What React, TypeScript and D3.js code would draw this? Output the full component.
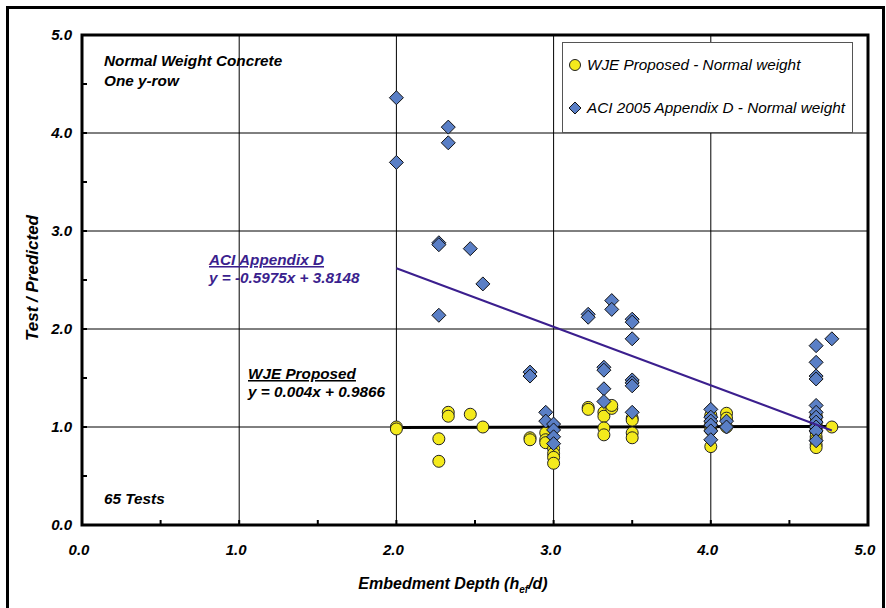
import React from "react";
import * as d3 from "d3";

const wjeX = [2.0, 2.0, 2.27, 2.27, 2.33, 2.33, 2.47, 2.55, 2.85, 2.85, 2.95, 2.95, 2.95, 3.0, 3.0, 3.0, 3.0, 3.22, 3.22, 3.32, 3.32, 3.32, 3.32, 3.37, 3.37, 3.5, 3.5, 3.5, 3.5, 3.5, 4.0, 4.0, 4.0, 4.0, 4.0, 4.1, 4.1, 4.1, 4.67, 4.67, 4.67, 4.67, 4.67, 4.67, 4.67, 4.67, 4.67, 4.67, 4.67, 4.77];
const wjeY = [1.0, 0.98, 0.88, 0.65, 1.15, 1.11, 1.13, 1.0, 0.89, 0.87, 0.94, 0.87, 0.84, 0.78, 0.73, 0.69, 0.63, 1.2, 1.18, 1.15, 1.11, 0.99, 0.92, 1.19, 1.22, 1.09, 1.07, 1.46, 0.94, 0.89, 1.0, 1.04, 0.97, 0.8, 1.12, 1.14, 1.09, 1.0, 1.1, 1.05, 1.02, 1.0, 0.98, 0.95, 0.9, 0.87, 0.82, 0.79, 1.12, 1.0];

const aciX = [2.0, 2.0, 2.27, 2.27, 2.27, 2.33, 2.33, 2.47, 2.55, 2.85, 2.85, 2.95, 2.95, 3.0, 3.0, 3.0, 3.0, 3.22, 3.22, 3.37, 3.37, 3.32, 3.32, 3.32, 3.32, 3.5, 3.5, 3.5, 3.5, 3.5, 3.5, 3.5, 4.0, 4.0, 4.0, 4.0, 4.0, 4.0, 4.1, 4.1, 4.67, 4.67, 4.67, 4.67, 4.67, 4.67, 4.67, 4.67, 4.67, 4.67, 4.67, 4.77];
const aciY = [4.36, 3.7, 2.88, 2.86, 2.14, 4.06, 3.9, 2.82, 2.46, 1.56, 1.52, 1.15, 1.06, 1.03, 0.97, 0.9, 0.83, 2.15, 2.12, 2.29, 2.2, 1.61, 1.58, 1.39, 1.26, 2.1, 2.07, 1.9, 1.48, 1.45, 1.42, 1.15, 1.18, 1.1, 1.06, 1.02, 0.96, 0.87, 1.06, 1.0, 1.83, 1.66, 1.52, 1.49, 1.22, 1.15, 1.1, 1.05, 1.0, 0.96, 0.86, 1.9];

const xTickLabels = ["0.0", "1.0", "2.0", "3.0", "4.0", "5.0"];
const yTickLabels = ["0.0", "1.0", "2.0", "3.0", "4.0", "5.0"];

const aciFit = { slope: -0.5975, intercept: 3.8148, x0: 2.0, x1: 4.77 };
const wjeFit = { slope: 0.004, intercept: 0.9866, x0: 2.0, x1: 4.77 };

const FONT = "'Liberation Sans', Arial, sans-serif";

export default function App() {
  const left = 82, right = 868, top = 35, bottom = 525;
  const x = d3.scaleLinear().domain([0, 5]).range([left, right]);
  const y = d3.scaleLinear().domain([0, 5]).range([bottom, top]);
  const major = d3.range(0, 5.01, 1);
  const minor = d3.range(0, 5.01, 0.5);
  const diamond = (cx: number, cy: number, r: number) =>
    `M${cx},${cy - r}L${cx + r},${cy}L${cx},${cy + r}L${cx - r},${cy}Z`;
  const fitLine = (f: typeof aciFit) =>
    d3.line<number>().x((v) => x(v)).y((v) => y(f.slope * v + f.intercept))([f.x0, f.x1]) || "";

  const yellow = "#f4ea1c";
  const blue = "#5a7fc6";

  return (
    <svg width={886} height={608} style={{ position: "absolute", left: 0, top: 0 }}>
      <rect x={0} y={0} width={886} height={608} fill="#fff" />
      <rect x={7.5} y={7.5} width={876} height={610} fill="none" stroke="#000" strokeWidth={3} />
      {/* grid */}
      {major.slice(1, -1).map((v) => (
        <line key={"gx" + v} x1={x(v)} x2={x(v)} y1={top} y2={bottom} stroke="#000" strokeWidth={1} />
      ))}
      {major.slice(1, -1).map((v) => (
        <line key={"gy" + v} x1={left} x2={right} y1={y(v)} y2={y(v)} stroke="#000" strokeWidth={1} />
      ))}
      {/* ticks */}
      {minor.map((v) => (
        <line key={"tx" + v} x1={x(v)} x2={x(v)} y1={bottom} y2={bottom - 5} stroke="#000" strokeWidth={2} />
      ))}
      {minor.map((v) => (
        <line key={"ty" + v} x1={left} x2={left + 5} y1={y(v)} y2={y(v)} stroke="#000" strokeWidth={2} />
      ))}
      <rect x={left} y={top} width={right - left} height={bottom - top} fill="none" stroke="#000" strokeWidth={3} />
      {/* tick labels */}
      {xTickLabels.map((t, i) => (
        <text key={"xl" + t} x={x(i) - 3} y={555} textAnchor="middle" fontFamily={FONT} fontSize={15} fontWeight="bold" fontStyle="italic">{t}</text>
      ))}
      {yTickLabels.map((t, i) => (
        <text key={"yl" + t} x={72} y={y(i) + 5} textAnchor="end" fontFamily={FONT} fontSize={15} fontWeight="bold" fontStyle="italic">{t}</text>
      ))}
      {/* axis titles */}
      <text x={453} y={589} textAnchor="middle" fontFamily={FONT} fontSize={16} fontWeight="bold" fontStyle="italic">
        Embedment Depth (h<tspan fontSize={10} dy={4}>ef</tspan><tspan dy={-4}>/d)</tspan>
      </text>
      <text transform={`translate(38,${y(2.5) - 2}) rotate(-90)`} textAnchor="middle" fontFamily={FONT} fontSize={17} fontWeight="bold" fontStyle="italic">Test / Predicted</text>
      {/* fits */}
      <path d={fitLine(wjeFit)} stroke="#000" strokeWidth={3} fill="none" />
      {/* points */}
      {wjeX.map((v, i) => (
        <circle key={"w" + i} cx={x(v)} cy={y(wjeY[i])} r={6} fill={yellow} stroke="#222" strokeWidth={1} />
      ))}
      {aciX.map((v, i) => (
        <path key={"a" + i} d={diamond(x(v), y(aciY[i]), 7)} fill={blue} stroke="#111" strokeWidth={1} />
      ))}
      <path d={fitLine(aciFit)} stroke="#3b1f8e" strokeWidth={2} fill="none" />
      {/* annotations */}
      <g fontFamily={FONT} fontSize={15.3} fontWeight="bold" fontStyle="italic">
        <text x={104} y={66}>Normal Weight Concrete</text>
        <text x={104} y={86}>One y-row</text>
        <text x={104} y={504}>65 Tests</text>
        <text x={209} y={265} fill="#3b1f8e" textDecoration="underline">ACI Appendix D</text>
        <text x={209} y={283} fill="#3b1f8e">y = -0.5975x + 3.8148</text>
        <text x={248} y={379} textDecoration="underline">WJE Proposed</text>
        <text x={248} y={397}>y = 0.004x + 0.9866</text>
      </g>
      {/* legend */}
      <rect x={562.5} y={42.5} width={290} height={90} fill="#fff" stroke="#555" strokeWidth={1} />
      <circle cx={575} cy={65} r={5.5} fill={yellow} stroke="#222" strokeWidth={1} />
      <text x={587} y={70} fontFamily={FONT} fontSize={15.3} fontStyle="italic">WJE Proposed - Normal weight</text>
      <path d={diamond(575, 108, 6)} fill={blue} stroke="#111" strokeWidth={1} />
      <text x={587} y={113} fontFamily={FONT} fontSize={15.3} fontStyle="italic">ACI 2005 Appendix D - Normal weight</text>
    </svg>
  );
}
